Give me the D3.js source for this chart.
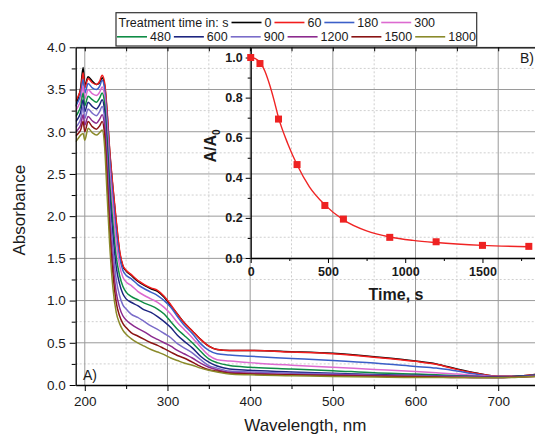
<!DOCTYPE html>
<html>
<head>
<meta charset="utf-8">
<script src="https://cdn.jsdelivr.net/npm/d3@7"></script>
<style>
body { margin: 0; background: #fff; }
text { font-family: Arial, "Liberation Sans", sans-serif; fill: #1a1a1a; }
</style>
</head>
<body>
<div id="chart"></div>
<script>
// wavelength grid (nm) shared by all spectra
const wavelengths = [189, 192, 195, 198, 200, 204, 209, 214, 218, 221, 224, 227, 230, 234, 238, 242, 246, 250, 256, 264, 272, 280, 288, 296, 304, 312, 320, 330, 340, 350, 360, 375, 400, 450, 500, 550, 600, 625, 650, 675, 700, 720, 745];

// treatment times (s) and their line colours
const times = [0, 60, 180, 300, 480, 600, 900, 1200, 1500, 1800];
const time_colors = ["#000000", "#f21d1d", "#3b5fc8", "#dc6ad0", "#0f8c45", "#1d2580", "#7a6cc9", "#8c2a8e", "#8a1414", "#8a8a2a"];

// absorbance, one array per treatment time
const abs_0    = [3.30, 3.40, 3.52, 3.76, 3.55, 3.65, 3.60, 3.56, 3.58, 3.64, 3.55, 3.22, 2.78, 2.33, 1.93, 1.58, 1.41, 1.35, 1.30, 1.23, 1.18, 1.14, 1.11, 1.04, 0.94, 0.84, 0.74, 0.64, 0.54, 0.46, 0.42, 0.41, 0.41, 0.395, 0.375, 0.335, 0.285, 0.25, 0.19, 0.14, 0.105, 0.105, 0.125];
const abs_60   = [3.36, 3.42, 3.50, 3.70, 3.52, 3.63, 3.58, 3.56, 3.60, 3.67, 3.58, 3.25, 2.80, 2.35, 1.95, 1.60, 1.42, 1.36, 1.31, 1.24, 1.19, 1.15, 1.12, 1.05, 0.95, 0.84, 0.74, 0.64, 0.54, 0.46, 0.42, 0.41, 0.41, 0.39, 0.37, 0.33, 0.28, 0.245, 0.185, 0.135, 0.105, 0.105, 0.125];
const abs_180  = [3.30, 3.36, 3.44, 3.62, 3.46, 3.57, 3.52, 3.50, 3.54, 3.61, 3.50, 3.15, 2.70, 2.22, 1.82, 1.52, 1.36, 1.30, 1.26, 1.19, 1.14, 1.10, 1.06, 1.00, 0.92, 0.81, 0.71, 0.61, 0.49, 0.41, 0.37, 0.355, 0.34, 0.315, 0.29, 0.26, 0.22, 0.20, 0.165, 0.125, 0.10, 0.10, 0.12];
const abs_300  = [3.25, 3.30, 3.37, 3.54, 3.39, 3.50, 3.45, 3.43, 3.47, 3.53, 3.42, 3.05, 2.58, 2.10, 1.70, 1.42, 1.28, 1.22, 1.18, 1.11, 1.06, 1.02, 0.98, 0.92, 0.84, 0.74, 0.66, 0.56, 0.45, 0.35, 0.30, 0.285, 0.265, 0.235, 0.21, 0.185, 0.16, 0.145, 0.13, 0.11, 0.10, 0.10, 0.115];
const abs_480  = [3.18, 3.23, 3.30, 3.46, 3.31, 3.42, 3.38, 3.35, 3.40, 3.46, 3.33, 2.92, 2.42, 1.92, 1.52, 1.30, 1.17, 1.10, 1.05, 1.01, 0.97, 0.94, 0.90, 0.84, 0.75, 0.66, 0.59, 0.50, 0.40, 0.31, 0.265, 0.23, 0.21, 0.19, 0.17, 0.145, 0.13, 0.12, 0.11, 0.10, 0.095, 0.10, 0.115];
const abs_600  = [3.12, 3.16, 3.23, 3.38, 3.24, 3.35, 3.30, 3.27, 3.32, 3.38, 3.24, 2.80, 2.28, 1.78, 1.40, 1.20, 1.08, 1.02, 0.98, 0.94, 0.89, 0.86, 0.81, 0.75, 0.68, 0.59, 0.52, 0.44, 0.34, 0.27, 0.225, 0.19, 0.175, 0.155, 0.14, 0.125, 0.115, 0.11, 0.105, 0.10, 0.095, 0.10, 0.115];
const abs_900  = [3.05, 3.09, 3.15, 3.30, 3.16, 3.27, 3.22, 3.19, 3.24, 3.30, 3.15, 2.68, 2.12, 1.62, 1.25, 1.06, 0.95, 0.90, 0.84, 0.80, 0.75, 0.70, 0.66, 0.61, 0.56, 0.49, 0.44, 0.38, 0.30, 0.23, 0.20, 0.165, 0.155, 0.14, 0.13, 0.115, 0.11, 0.105, 0.10, 0.095, 0.09, 0.095, 0.11];
const abs_1200 = [3.00, 3.03, 3.08, 3.20, 3.08, 3.18, 3.13, 3.10, 3.15, 3.20, 3.05, 2.55, 1.98, 1.45, 1.10, 0.92, 0.82, 0.77, 0.72, 0.67, 0.63, 0.58, 0.54, 0.50, 0.46, 0.41, 0.37, 0.32, 0.26, 0.21, 0.18, 0.15, 0.14, 0.125, 0.12, 0.11, 0.10, 0.10, 0.095, 0.09, 0.09, 0.095, 0.105];
const abs_1500 = [2.95, 2.98, 3.02, 3.12, 3.00, 3.12, 3.06, 3.03, 3.07, 3.12, 2.95, 2.42, 1.85, 1.32, 0.98, 0.82, 0.73, 0.68, 0.62, 0.58, 0.54, 0.50, 0.47, 0.43, 0.39, 0.35, 0.32, 0.27, 0.22, 0.18, 0.165, 0.14, 0.13, 0.12, 0.11, 0.105, 0.10, 0.095, 0.09, 0.09, 0.088, 0.092, 0.10];
const abs_1800 = [2.88, 2.92, 2.96, 2.98, 2.90, 3.04, 2.99, 2.96, 2.99, 3.02, 2.82, 2.25, 1.68, 1.15, 0.86, 0.73, 0.65, 0.60, 0.55, 0.50, 0.46, 0.42, 0.39, 0.36, 0.32, 0.29, 0.26, 0.235, 0.20, 0.175, 0.155, 0.13, 0.12, 0.11, 0.10, 0.095, 0.09, 0.09, 0.088, 0.087, 0.087, 0.09, 0.10];
const spectra = [abs_0, abs_60, abs_180, abs_300, abs_480, abs_600, abs_900, abs_1200, abs_1500, abs_1800];

// inset B: A/A0 against treatment time
const kinetic_t     = [0, 60, 180, 300, 480, 600, 900, 1200, 1500, 1800];
const kinetic_ratio = [1.0, 0.97, 0.693, 0.466, 0.262, 0.194, 0.103, 0.081, 0.063, 0.058];
// fitted curve
const fit_t     = [0, 30, 60, 90, 120, 150, 180, 240, 300, 380, 480, 600, 750, 900, 1050, 1200, 1500, 1800];
const fit_ratio = [1.0, 0.995, 0.975, 0.935, 0.87, 0.79, 0.70, 0.57, 0.465, 0.355, 0.265, 0.19, 0.135, 0.105, 0.088, 0.077, 0.063, 0.056];

const w = 535, h = 436;
let svg = d3.select("#chart").append("svg")
    .attr("width", w).attr("height", h);

// main plot scales
let x = d3.scaleLinear().domain([189, 744.5]).range([75.7, 535]);
let y = d3.scaleLinear().domain([0, 4]).range([385, 47.3]);
let plot_left = x.range()[0], plot_right = x.range()[1];
let plot_bottom = y.range()[0], plot_top = y.range()[1];

// grid - minor dashed first, then major solid
let x_major = d3.range(200, 701, 100), x_minor = d3.range(250, 744, 100);
let y_major = d3.range(0.5, 4.01, 0.5), y_minor = d3.range(0.25, 4, 0.5);
let grid = svg.append("g");
grid.selectAll(".xminor").data(x_minor).enter().append("line")
    .attr("x1", d => x(d)).attr("x2", d => x(d)).attr("y1", plot_top).attr("y2", plot_bottom)
    .attr("stroke", "#cfcfcf").attr("stroke-dasharray", "2,2");
grid.selectAll(".yminor").data(y_minor).enter().append("line")
    .attr("x1", plot_left).attr("x2", plot_right).attr("y1", d => y(d)).attr("y2", d => y(d))
    .attr("stroke", "#cfcfcf").attr("stroke-dasharray", "2,2");
grid.selectAll(".xmajor").data(x_major).enter().append("line")
    .attr("x1", d => x(d)).attr("x2", d => x(d)).attr("y1", plot_top).attr("y2", plot_bottom)
    .attr("stroke", "#9a9a9a");
grid.selectAll(".ymajor").data(y_major).enter().append("line")
    .attr("x1", plot_left).attr("x2", plot_right).attr("y1", d => y(d)).attr("y2", d => y(d))
    .attr("stroke", "#9a9a9a");

// spectra, clipped to the plot box
svg.append("clipPath").attr("id", "plotclip").append("rect")
    .attr("x", plot_left).attr("y", plot_top)
    .attr("width", plot_right - plot_left).attr("height", plot_bottom - plot_top);
let line = d3.line().x((d, i) => x(wavelengths[i])).y(d => y(d)).curve(d3.curveMonotoneX);
svg.append("g").attr("clip-path", "url(#plotclip)")
    .selectAll("path").data(spectra).enter().append("path")
    .attr("d", line)
    .attr("fill", "none")
    .attr("stroke", (d, i) => time_colors[i])
    .attr("stroke-width", 1.5)
    .attr("stroke-linejoin", "round");

// main axes
let fmt1 = d3.format(".1f");
svg.append("g").attr("transform", `translate(0,${plot_bottom})`)
    .call(d3.axisBottom(x).tickValues(x_major).tickSize(6).tickSizeOuter(0).tickPadding(5))
    .call(g => g.select(".domain").attr("stroke", "#000").attr("stroke-width", 1.3))
    .call(g => g.selectAll("text").attr("font-size", 13.5).attr("fill", "#1a1a1a"));
svg.append("g").attr("transform", `translate(0,${plot_bottom})`)
    .call(d3.axisBottom(x).tickValues(x_minor).tickSize(4).tickFormat(""))
    .call(g => g.select(".domain").remove());
svg.append("g").attr("transform", `translate(${plot_left},0)`)
    .call(d3.axisLeft(y).tickValues(d3.range(0, 4.01, 0.5)).tickSize(6).tickSizeOuter(0).tickFormat(fmt1).tickPadding(4))
    .call(g => g.select(".domain").attr("stroke", "#000").attr("stroke-width", 1.3))
    .call(g => g.selectAll("text").attr("font-size", 13.5).attr("fill", "#1a1a1a"));
svg.append("g").attr("transform", `translate(${plot_left},0)`)
    .call(d3.axisLeft(y).tickValues(y_minor).tickSize(4).tickFormat(""))
    .call(g => g.select(".domain").remove());
// top frame with inward ticks
svg.append("g").attr("transform", `translate(0,${plot_top})`)
    .call(d3.axisBottom(x).tickValues(d3.range(200, 744, 50)).tickSize(4).tickSizeOuter(0).tickFormat(""))
    .call(g => g.select(".domain").attr("stroke", "#000").attr("stroke-width", 1.3));

svg.append("text").attr("x", (plot_left + plot_right) / 2).attr("y", 431)
    .attr("text-anchor", "middle").attr("font-size", 17).text("Wavelength, nm");
svg.append("text").attr("transform", `translate(25,${(plot_top + plot_bottom) / 2 - 6}) rotate(-90)`)
    .attr("text-anchor", "middle").attr("font-size", 17).text("Absorbance");
svg.append("text").attr("x", 83).attr("y", 380).attr("font-size", 14).text("A)");

// inset B
let ix = d3.scaleLinear().domain([0, 1840]).range([250.7, 535]);
let iy = d3.scaleLinear().domain([0, 1.05]).range([258, 47.5]);
let inset = svg.append("g");
inset.append("g").attr("transform", `translate(0,${iy(0)})`)
    .call(d3.axisBottom(ix).tickValues([0, 500, 1000, 1500]).tickFormat(d3.format("d")).tickSize(5).tickSizeOuter(0).tickPadding(4))
    .call(g => g.select(".domain").attr("stroke", "#000").attr("stroke-width", 1.3))
    .call(g => g.selectAll("text").attr("font-size", 12.5).attr("font-weight", "bold"));
inset.append("g").attr("transform", `translate(0,${iy(0)})`)
    .call(d3.axisBottom(ix).tickValues([250, 750, 1250, 1750]).tickSize(3).tickFormat(""))
    .call(g => g.select(".domain").remove());
inset.append("g").attr("transform", `translate(${ix(0)},0)`)
    .call(d3.axisLeft(iy).tickValues(d3.range(0, 1.01, 0.2)).tickSize(5).tickSizeOuter(0).tickFormat(fmt1).tickPadding(3))
    .call(g => g.select(".domain").attr("stroke", "#000").attr("stroke-width", 1.3))
    .call(g => g.selectAll("text").attr("font-size", 12.5).attr("font-weight", "bold"));
inset.append("g").attr("transform", `translate(${ix(0)},0)`)
    .call(d3.axisLeft(iy).tickValues(d3.range(0.1, 1.0, 0.2)).tickSize(3).tickFormat(""))
    .call(g => g.select(".domain").remove());

let fit_line = d3.line().x((d, i) => ix(fit_t[i])).y(d => iy(d)).curve(d3.curveMonotoneX);
inset.append("path").datum(fit_ratio).attr("d", fit_line)
    .attr("fill", "none").attr("stroke", "#f02424").attr("stroke-width", 1.4);
inset.selectAll(".pt").data(kinetic_ratio).enter().append("rect")
    .attr("x", (d, i) => ix(kinetic_t[i]) - 3.5)
    .attr("y", d => iy(d) - 3.5)
    .attr("width", 7).attr("height", 7)
    .attr("fill", "#ee2222");

inset.append("text").attr("x", 396).attr("y", 300).attr("text-anchor", "middle")
    .attr("font-size", 16).attr("font-weight", "bold").text("Time, s");
let ylab = inset.append("text").attr("transform", "translate(216,146) rotate(-90)")
    .attr("text-anchor", "middle").attr("font-size", 16).attr("font-weight", "bold");
ylab.append("tspan").text("A/A");
ylab.append("tspan").attr("font-size", 10).attr("dy", 4).text("0");
svg.append("text").attr("x", 534).attr("y", 63).attr("text-anchor", "end")
    .attr("font-size", 14).text("B)");

// legend
let legend = svg.append("g");
legend.append("rect").attr("x", 116).attr("y", 12.7).attr("width", 360.7).attr("height", 33.3)
    .attr("fill", "#fff").attr("stroke", "#333").attr("stroke-width", 1.2);
let title = legend.append("text").attr("x", 118.5).attr("y", 27).attr("font-size", 12.5)
    .text("Treatment time in: s");
let lx = 118.5 + title.node().getComputedTextLength() + 3;
let ly = 22.5;
times.forEach((t, i) => {
    if (i == 4) { lx = 117; ly = 36.8; }
    legend.append("line").attr("x1", lx).attr("x2", lx + 30).attr("y1", ly).attr("y2", ly)
        .attr("stroke", time_colors[i]).attr("stroke-width", 1.6);
    let label = legend.append("text").attr("x", lx + 33).attr("y", ly + 4.5).attr("font-size", 12.5).text(t);
    lx = lx + 33 + label.node().getComputedTextLength() + 3;
});
</script>
</body>
</html>
